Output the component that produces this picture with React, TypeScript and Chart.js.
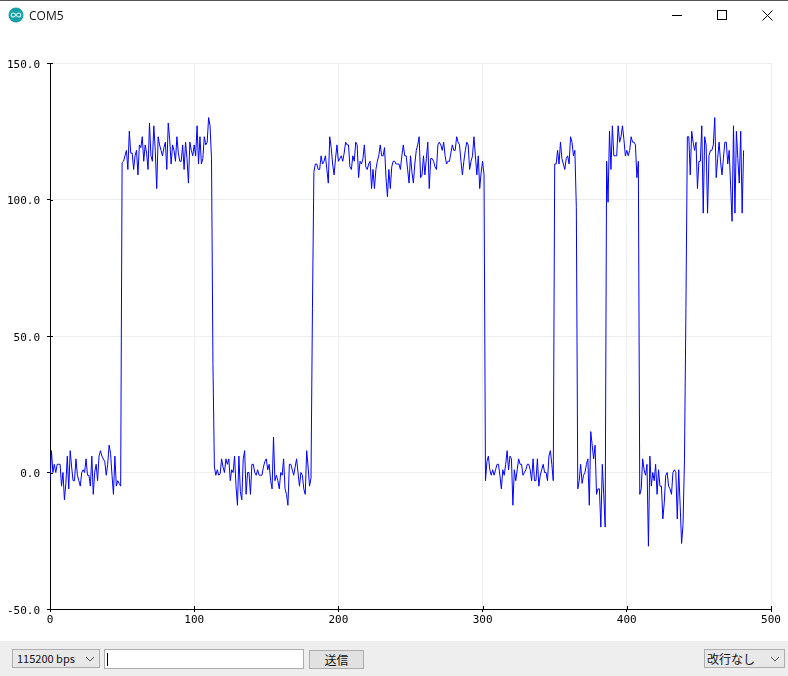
import React, { useEffect, useRef } from 'react';
import { Chart, registerables } from 'chart.js';

Chart.register(...registerables);

// samples, one list per stretch of the signal
const low1 = [
  -3, 8, 0, 3, 0, 3, 3, 3, -5, 0,
  -10, -4, 6, -6, 8, 2, -3, -3, 5, -1,
  -3, -5, 0, 1, 0, 5, -1, -1, -5, 6,
  -8, 0, 3, -3, 6, 8, 6, 5, 4, -1,
  3, 10, 7, -1, -8, 6, -5, -3, -4, -5,
];
const high1 = [
  113.5, 114, 116, 118, 111, 125, 117, 117, 111, 116,
  118, 109, 120, 119, 123, 114, 120, 117, 111, 128,
  116, 114, 127, 118, 104, 123, 120, 118, 116, 119,
  121, 111, 128, 122, 113, 120, 118, 114, 123, 117,
  114, 114, 120, 111, 121, 115, 106, 121, 118, 116,
  120, 116, 127, 113, 123, 113, 115, 123, 120, 121,
  130, 127, 115, 40,
];
const low2 = [
  2, -1, 1, -1, -0.5, 5, 2, 0, 5, 3,
  5, -3, 1, 0, 6, -5, -12, 6, -7, -10,
  5, 8, -8, 0, 0, -8, 3, 3, 0, -1,
  1, -1, -1, -1, 2, 4, 5, 1, 3, -3,
  -6, 13, -3, -1, -3, -6, 0, -1, 5, -6,
  -8, -12, 3, 3, 1, -1, 2, 5, 0, -5,
  0, -1, -6, -8, 8, 2, -5, -2,
];
const high2 = [
  60, 110, 113, 113, 111, 111, 116, 113, 114, 116,
  111, 106, 123, 119, 113, 109, 115, 120, 114, 115,
  116, 114, 117, 121, 120, 120, 112, 111, 116, 114,
  121, 120, 108, 114, 113, 115, 120, 112, 111, 113,
  114, 104, 111, 104, 111, 114, 116, 120, 116, 116,
  119, 108, 101, 111, 104, 112, 114, 114, 113, 113,
  113, 111, 116, 120, 116, 116, 111, 106, 116, 110,
  106, 113, 118, 120, 123, 108, 109, 116, 109, 115,
  121, 104, 115, 115, 114, 112, 111, 120, 121, 120,
  118, 121, 116, 113, 114, 114, 117, 120, 118, 118,
  123, 121, 120, 114, 109, 114, 118, 121, 120, 111,
  114, 116, 123, 116, 109, 116, 104, 110, 114, 109,
];
const low3 = [
  -3, 4, 6, 1, -1, 1, -1, 1, 3, 3,
  -1, -6, 1, -1, 3, 8, 1, 6, 5, -12,
  1, -3, 1, 5, 3, 3, -1, 0, 1, 3,
  3, 1, -3, 5, -3, -3, 5, -5, -1, 1,
  3, 0, 0, -3, 6, 8, 3, -3,
];
const high3 = [113, 113, 118, 113, 121, 115, 113, 111, 115, 116, 113, 123, 121, 116, 118, 97];
const low4 = [-6, -3, 3, -4, -1, 0, 3, 5, -12, 15, 10, 5, 10, -8, -6, -6, -20, 3, -8, -20];
const high4 = [
  114, 99, 125, 111, 127, 116, 116, 116, 127, 121,
  123, 127, 122, 116, 118, 116, 118, 123, 121, 121,
  120, 108, 114,
];
const low5 = [
  -8, -6, 5, 1, -1, 3, -27, 6, -5, 0,
  -3, 3, -8, 1, -5, -5, -17, -11, -1, 0,
  -5, -6, -8, 0, 1, 0, -17, 1, -12, -26,
  -19, 5, 60,
];
const high5 = [
  123, 123, 109, 125, 121, 118, 121, 104, 114, 114,
  127, 95, 123, 120, 95, 116, 118, 118, 120, 130,
  108, 115, 121, 114, 109, 115, 121, 121, 113, 118,
  105, 92, 127, 95, 125, 115, 106, 125, 95, 118,
];
const samples = [...low1, ...high1, ...low2, ...high2, ...low3, ...high3, ...low4, ...high4, ...low5, ...high5];

const xTicks = [0, 100, 200, 300, 400, 500];
const yTicks = [-50, 0, 50, 100, 150];

const plotFont = { family: '"DejaVu Sans Mono", monospace', size: 11 };

// the plotter's tick marks go through the axis, chart.js only draws the outer part
const innerTicks = {
  id: 'innerTicks',
  afterDraw(chart: any) {
    const { ctx, scales, chartArea } = chart;
    ctx.save();
    ctx.strokeStyle = '#000';
    ctx.lineWidth = 1;
    ctx.beginPath();
    xTicks.forEach((t) => {
      const px = Math.round(scales.x.getPixelForValue(t)) + 0.5;
      ctx.moveTo(px, chartArea.bottom - 3);
      ctx.lineTo(px, chartArea.bottom);
    });
    yTicks.forEach((t) => {
      const py = Math.round(scales.y.getPixelForValue(t)) + 0.5;
      ctx.moveTo(chartArea.left, py);
      ctx.lineTo(chartArea.left + 3, py);
    });
    ctx.stroke();
    ctx.restore();
  },
};

const App: React.FC = () => {
  const chartRef = useRef<HTMLCanvasElement | null>(null);

  useEffect(() => {
    document.body.style.margin = '0';
    if (!chartRef.current) return;
    const chart = new Chart(chartRef.current, {
      type: 'line',
      data: {
        datasets: [
          {
            data: samples.map((y, x) => ({ x, y })),
            borderColor: '#0000ff',
            borderWidth: 1,
            pointRadius: 0,
            tension: 0,
            fill: false,
          },
        ],
      },
      options: {
        animation: false,
        responsive: false,
        devicePixelRatio: 1,
        layout: { padding: { top: 63, right: 17, left: 0, bottom: 0 } },
        plugins: { legend: { display: false }, tooltip: { enabled: false } },
        scales: {
          x: {
            type: 'linear',
            min: 0,
            max: 500,
            afterFit: (s: any) => { s.height = 31; },
            afterBuildTicks: (s: any) => { s.ticks = xTicks.map((value) => ({ value })); },
            border: { color: '#000' },
            grid: { color: '#eeeeee', tickColor: '#000', tickLength: 3 },
            ticks: { color: '#000', font: plotFont, padding: 2, maxRotation: 0 },
          },
          y: {
            type: 'linear',
            min: -50,
            max: 150,
            afterFit: (s: any) => { s.width = 50; },
            afterBuildTicks: (s: any) => { s.ticks = yTicks.map((value) => ({ value })); },
            border: { color: '#000' },
            grid: { color: '#eeeeee', tickColor: '#000', tickLength: 3 },
            ticks: {
              color: '#000',
              font: plotFont,
              padding: 7,
              labelOffset: 2,
              callback: (v: any) => Number(v).toFixed(1),
            },
          },
        },
      },
      plugins: [innerTicks],
    });
    return () => chart.destroy();
  }, []);

  const uiFont = '"Noto Sans CJK JP", "Noto Sans", sans-serif';
  const box = (left: number, top: number, width: number, height: number): React.CSSProperties => ({
    position: 'absolute',
    left,
    top,
    width,
    height,
    boxSizing: 'border-box',
  });

  return (
    <div style={{ position: 'absolute', left: 0, top: 0, width: 788, height: 676, background: '#fff', overflow: 'hidden' }}>
      <canvas ref={chartRef} width={788} height={640} style={{ position: 'absolute', left: 0, top: 0 }} />

      {/* title bar */}
      <div style={{ ...box(0, 0, 788, 1), background: '#555' }} />
      <svg style={box(8, 7, 16, 16)} viewBox="0 0 16 16">
        <circle cx="8" cy="8" r="7.5" fill="#17a1a5" />
        <path d="M8 8c-1-1.6-1.8-2-2.8-2a2 2 0 0 0 0 4c1 0 1.8-.4 2.8-2c1-1.6 1.8-2 2.8-2a2 2 0 0 1 0 4c-1 0-1.8-.4-2.8-2z" fill="none" stroke="#d8f0f0" strokeWidth="1.1" />
      </svg>
      <div style={{ position: 'absolute', left: 29, top: 7, font: '12px "Open Sans", sans-serif', lineHeight: '17px', color: '#111' }}>COM5</div>
      <div style={{ ...box(672, 15, 10, 1), background: '#000' }} />
      <div style={{ ...box(717, 10, 10, 10), border: '1px solid #000' }} />
      <svg style={box(762, 10, 11, 11)} viewBox="0 0 11 11">
        <path d="M0.5 0.5L10.5 10.5M10.5 0.5L0.5 10.5" stroke="#000" strokeWidth="1" fill="none" />
      </svg>

      {/* bottom bar */}
      <div style={{ ...box(0, 641, 788, 35), background: '#eeeeee' }} />
      <div style={{ ...box(12, 649, 88, 19), background: '#e8e8e8', border: '1px solid #adadad', font: `11px ${uiFont}`, lineHeight: '17px', paddingLeft: 4, color: '#111' }}>115200 bps</div>
      <svg style={box(85, 656, 10, 6)} viewBox="0 0 10 6">
        <path d="M1 1L5 5L9 1" stroke="#555" fill="none" />
      </svg>
      <div style={{ ...box(104, 649, 200, 20), background: '#fff', border: '1px solid #adadad' }} />
      <div style={{ ...box(107, 653, 1, 13), background: '#000' }} />
      <div style={{ ...box(309, 650, 55, 19), background: '#e1e1e1', border: '1px solid #adadad', font: `12px ${uiFont}`, lineHeight: '17px', textAlign: 'center', color: '#111' }}>送信</div>
      <div style={{ ...box(704, 649, 81, 19), background: '#e8e8e8', border: '1px solid #adadad', font: `12px ${uiFont}`, lineHeight: '17px', paddingLeft: 2, color: '#111' }}>改行なし</div>
      <svg style={box(770, 656, 10, 6)} viewBox="0 0 10 6">
        <path d="M1 1L5 5L9 1" stroke="#555" fill="none" />
      </svg>
    </div>
  );
};

export default App;
